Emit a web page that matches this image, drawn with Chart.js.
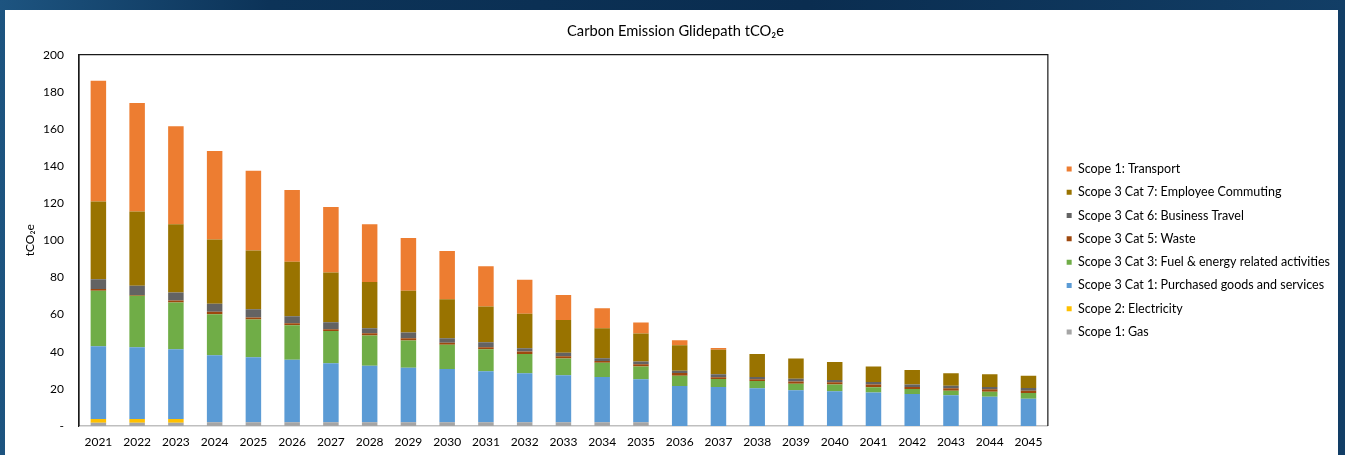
<!DOCTYPE html>
<html>
<head>
<meta charset="utf-8">
<script src="https://cdn.jsdelivr.net/npm/chart.js@4.4.0/dist/chart.umd.min.js"></script>
<style>
  html, body { margin: 0; padding: 0; }
  body {
    width: 1345px; height: 455px; overflow: hidden;
    background: linear-gradient(90deg, #1d5480 0%, #0c3358 20%, #0a2d50 60%, #123e66 100%);
  }
  #box {
    position: absolute; left: 5px; top: 10px; width: 1333px; height: 445px;
    background: #ffffff;
  }
</style>
</head>
<body>
<div id="box"><canvas id="glidepath"></canvas></div>
<script>
// data (tCO2e)
var years = ['2021', '2022', '2023', '2024', '2025', '2026', '2027', '2028', '2029', '2030', '2031', '2032', '2033',
  '2034', '2035', '2036', '2037', '2038', '2039', '2040', '2041', '2042', '2043', '2044', '2045'];

var gas = [1.8, 1.8, 1.8, 2.0, 2.0, 2.0, 2.0, 2.0, 2.0, 2.0, 2.0, 2.0, 2.0, 2.0, 2.0, 0, 0, 0, 0, 0, 0, 0, 0, 0, 0];
var electricity = [2.0, 2.0, 2.0, 0, 0, 0, 0, 0, 0, 0, 0, 0, 0, 0, 0, 0, 0, 0, 0, 0, 0, 0, 0, 0, 0];
var purchased = [39.2, 38.6, 37.5, 36.1, 35.0, 33.7, 31.8, 30.5, 29.4, 28.7, 27.5, 26.4, 25.3,
  24.4, 23.2, 21.6, 21.0, 20.3, 19.2, 18.7, 18.0, 17.3, 16.5, 15.8, 14.7];
var fuelEnergy = [29.9, 27.7, 25.2, 22.1, 20.3, 18.6, 17.4, 16.2, 14.6, 13.0, 11.8, 10.4, 9.0,
  7.6, 6.8, 5.5, 4.3, 4.0, 3.6, 3.6, 2.9, 2.6, 2.5, 2.7, 3.1];
var waste = [0.9, 0.5, 1.1, 1.3, 1.1, 1.1, 0.9, 1.3, 1.3, 1.2, 1.1, 1.3, 1.3,
  1.0, 1.3, 1.5, 1.0, 0.9, 1.1, 1.2, 1.4, 1.1, 1.3, 1.3, 1.2];
var businessTravel = [5.3, 5.0, 4.3, 4.3, 4.5, 3.7, 3.8, 2.7, 3.0, 2.4, 2.7, 1.8, 1.8,
  1.5, 1.4, 1.2, 1.6, 1.2, 1.6, 1.3, 1.4, 1.3, 1.4, 1.2, 1.5];
var commuting = [41.8, 39.9, 36.8, 34.6, 31.6, 29.3, 26.8, 24.8, 22.6, 21.0, 19.2, 18.6, 17.7,
  16.2, 15.1, 13.7, 13.2, 12.4, 10.8, 9.7, 8.3, 7.9, 6.7, 6.9, 6.6];
var transport = [65.1, 58.5, 52.7, 47.7, 43.0, 38.7, 35.2, 31.2, 28.4, 25.9, 21.8, 18.2, 13.5,
  10.7, 5.9, 2.7, 0.9, 0, 0, 0, 0, 0, 0, 0, 0];

var yTicks = [0, 20, 40, 60, 80, 100, 120, 140, 160, 180, 200];

Chart.defaults.font.family = 'Lato, "Open Sans", sans-serif';
Chart.defaults.font.size = 12;
Chart.defaults.color = '#000000';

function series(label, data, colour) {
  return {
    label: label,
    data: data,
    backgroundColor: colour,
    borderWidth: 0,
    barPercentage: 0.4,
    categoryPercentage: 1.0
  };
}

// black frame round the plot area (top, left, right)
var plotFrame = {
  id: 'plotFrame',
  beforeDatasetsDraw: function(chart) {
    var a = chart.chartArea, ctx = chart.ctx;
    ctx.save();
    ctx.strokeStyle = '#1a1a1a';
    ctx.lineWidth = 1.2;
    ctx.beginPath();
    ctx.moveTo(a.left, a.bottom);
    ctx.lineTo(a.left, a.top);
    ctx.lineTo(a.right, a.top);
    ctx.lineTo(a.right, a.bottom);
    ctx.stroke();
    ctx.restore();
  }
};

// move the legend a little to the right and down
var legendNudge = {
  id: 'legendNudge',
  afterLayout: function(chart) {
    var lg = chart.legend;
    lg.left += 8; lg.right += 8;
    lg.top += 18; lg.bottom += 18;
  }
};

var ctx = document.getElementById('glidepath').getContext('2d');
var glidepath = new Chart(ctx, {
  type: 'bar',
  data: {
    labels: years,
    datasets: [
      series('Scope 1: Gas', gas, '#a5a5a5'),
      series('Scope 2: Electricity', electricity, '#ffc000'),
      series('Scope 3 Cat 1: Purchased goods and services', purchased, '#5b9bd5'),
      series('Scope 3 Cat 3: Fuel & energy related activities', fuelEnergy, '#70ad47'),
      series('Scope 3 Cat 5: Waste', waste, '#9e480e'),
      series('Scope 3 Cat 6: Business Travel', businessTravel, '#636363'),
      series('Scope 3 Cat 7: Employee Commuting', commuting, '#997300'),
      series('Scope 1: Transport', transport, '#ed7d31')
    ]
  },
  options: {
    responsive: true,
    maintainAspectRatio: false,
    animation: false,
    layout: {
      padding: { left: 14, right: 6, top: 0, bottom: 0 }
    },
    plugins: {
      title: {
        display: true,
        text: 'Carbon Emission Glidepath tCO\u2082e',
        font: { size: 14.7, weight: 'normal' },
        color: '#000000',
        padding: { top: 12, bottom: 15 }
      },
      legend: {
        position: 'right',
        reverse: true,
        labels: {
          boxWidth: 5,
          boxHeight: 5,
          padding: 10.8,
          font: { size: 12.5 },
          color: '#000000'
        }
      },
      tooltip: { enabled: false }
    },
    scales: {
      x: {
        stacked: true,
        grid: { display: false, drawTicks: false },
        border: { display: true, color: '#bfbfbf', width: 1.5 },
        ticks: { padding: 9, maxRotation: 0, autoSkip: false, font: { size: 12 } },
        afterFit: function(axis) { axis.height = 29; }
      },
      y: {
        stacked: true,
        min: 0,
        max: 200,
        afterBuildTicks: function(axis) {
          axis.ticks = yTicks.map(function(v) { return { value: v }; });
        },
        afterFit: function(axis) { axis.width = 60; },
        grid: { display: false, drawTicks: false },
        border: { display: true, color: '#1a1a1a', width: 1.2 },
        ticks: {
          padding: 15,
          font: { size: 12 },
          callback: function(v) { return v === 0 ? '-' : v; }
        },
        title: {
          display: true,
          text: 'tCO\u2082e',
          font: { size: 12 },
          padding: { top: 4, bottom: 4 }
        }
      }
    }
  },
  plugins: [plotFrame, legendNudge]
});
</script>
</body>
</html>
